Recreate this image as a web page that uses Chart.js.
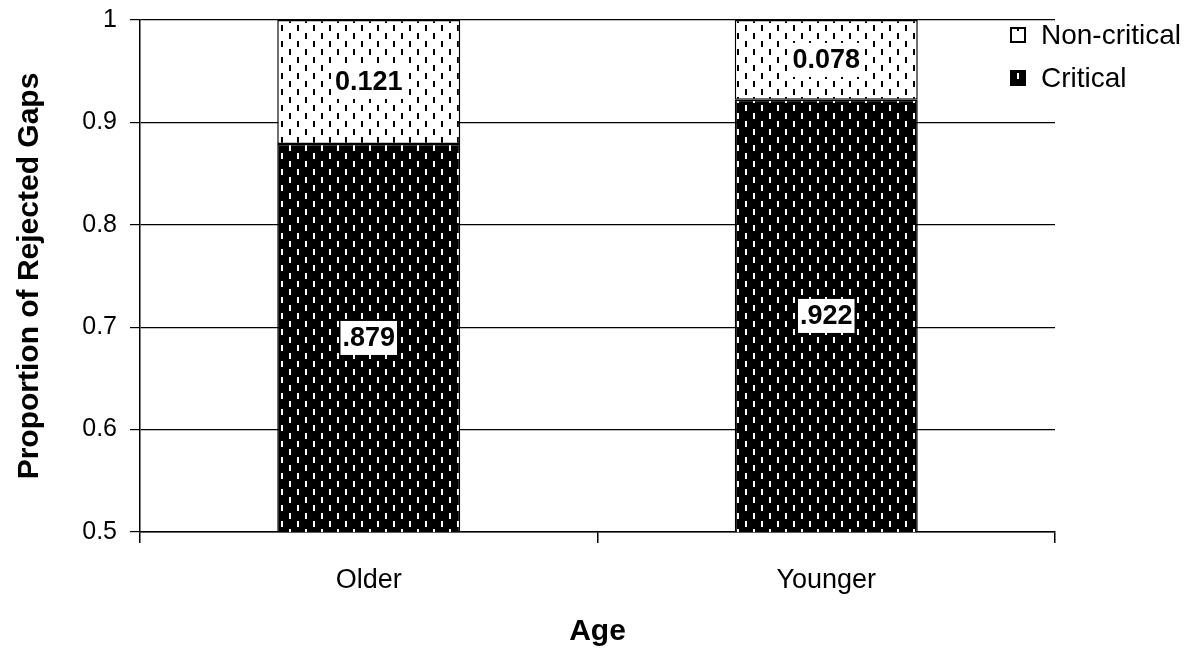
<!DOCTYPE html>
<html>
<head>
<meta charset="utf-8">
<title>Proportion of Rejected Gaps by Age</title>
<script src="https://cdn.jsdelivr.net/npm/chart.js@4/dist/chart.umd.min.js"></script>
<style>
  html, body { margin: 0; padding: 0; background: #fff; }
  #wrap { width: 1192px; height: 650px; }
</style>
</head>
<body>
<div id="wrap"><canvas id="gapsChart"></canvas></div>
<script>
// Data
const ageGroups = ['Older', 'Younger'];
const criticalShare = [0.879, 0.922];
const nonCriticalShare = [0.121, 0.078];
const seriesNames = ['Critical', 'Non-critical'];
const yTicks = [0.5, 0.6, 0.7, 0.8, 0.9, 1];

const FONT = "'Liberation Sans', Arial, sans-serif";

const canvas = document.getElementById('gapsChart');
const ctx = canvas.getContext('2d');

// Excel-style "dashed vertical" fill: staggered short dashes
function dashPattern(bg, fg) {
    const tile = document.createElement('canvas');
    tile.width = 16; tile.height = 16;
    const g = tile.getContext('2d');
    g.fillStyle = bg;
    g.fillRect(0, 0, 16, 16);
    g.fillStyle = fg;
    g.fillRect(1, 1, 2, 6);
    g.fillRect(9, 9, 2, 6);
    return ctx.createPattern(tile, 'repeat');
}

const darkFill = dashPattern('#000', '#fff');
const lightFill = dashPattern('#fff', '#000');

// Value labels centred on the visible part of each segment, on a white box
const segmentLabels = {
    id: 'segmentLabels',
    afterDatasetsDraw(chart) {
        const c = chart.ctx;
        const area = chart.chartArea;
        c.save();
        c.font = "bold 27px " + FONT;
        c.textAlign = 'center';
        c.textBaseline = 'middle';
        chart.data.datasets.forEach((ds, di) => {
            chart.getDatasetMeta(di).data.forEach((bar, i) => {
                const top = Math.max(Math.min(bar.y, bar.base), area.top);
                const bottom = Math.min(Math.max(bar.y, bar.base), area.bottom);
                const cy = (top + bottom) / 2;
                let text = ds.data[i].toFixed(3);
                if (di === 0) text = text.replace(/^0/, '');
                const w = c.measureText(text).width + 4;
                c.fillStyle = '#fff';
                c.fillRect(bar.x - w / 2, cy - 17, w, 34);
                c.fillStyle = '#000';
                c.fillText(text, bar.x, cy + 1);
            });
        });
        c.restore();
    }
};

// Legend at the top right, top series first
const sideLegend = {
    id: 'sideLegend',
    afterDraw(chart) {
        const c = chart.ctx;
        const x = chart.chartArea.right - 44;
        c.save();
        c.font = "28px " + FONT;
        c.textBaseline = 'middle';
        chart.data.datasets.slice().reverse().forEach((ds, i) => {
            const y = 35 + i * 43;
            c.fillStyle = ds.backgroundColor;
            c.fillRect(x, y - 7, 14, 14);
            c.strokeStyle = '#000';
            c.lineWidth = 2;
            c.strokeRect(x, y - 7, 14, 14);
            c.fillStyle = '#000';
            c.fillText(ds.label, x + 30, y + 1);
        });
        c.restore();
    }
};

new Chart(ctx, {
    type: 'bar',
    data: {
        labels: ageGroups,
        datasets: [
            {
                label: seriesNames[0],
                data: criticalShare,
                backgroundColor: darkFill,
                borderColor: '#000', borderWidth: 1.5, borderSkipped: false,
                barPercentage: 0.4, categoryPercentage: 1
            },
            {
                label: seriesNames[1],
                data: nonCriticalShare,
                backgroundColor: lightFill,
                borderColor: '#000', borderWidth: 1.5, borderSkipped: false,
                barPercentage: 0.4, categoryPercentage: 1
            }
        ]
    },
    options: {
        responsive: true, maintainAspectRatio: false,
        animation: false,
        layout: { padding: { left: 0, top: 20, right: 137, bottom: 0 } },
        plugins: {
            legend: { display: false },
            tooltip: { enabled: false }
        },
        scales: {
            x: {
                stacked: true,
                afterFit: s => { s.height = 118; },
                grid: { offset: true, drawOnChartArea: false, drawTicks: true, tickLength: 11, color: '#000', lineWidth: 1.5 },
                border: { display: true, color: '#000', width: 1.5 },
                ticks: { color: '#000', padding: 21, font: { family: FONT, size: 27 } },
                title: {
                    display: true, text: 'Age', color: '#000',
                    font: { family: FONT, size: 30, weight: 'bold' },
                    padding: { top: 0, bottom: 0 }
                }
            },
            y: {
                stacked: true,
                min: 0.5, max: 1,
                afterFit: s => { s.width = 140; s.paddingTop = 0; s.paddingBottom = 0; },
                afterBuildTicks: s => { s.ticks = yTicks.map(v => ({ value: v })); },
                grid: { color: '#000', lineWidth: 1.2, drawTicks: true, tickLength: 10 },
                border: { display: true, color: '#000', width: 1.5 },
                ticks: { color: '#000', padding: 13, font: { family: FONT, size: 25 }, callback: v => String(v) },
                title: {
                    display: true, text: 'Proportion of Rejected Gaps', color: '#000',
                    font: { family: FONT, size: 30, weight: 'bold' },
                    padding: { top: 12, bottom: 0 }
                }
            }
        }
    },
    plugins: [segmentLabels, sideLegend]
});
</script>
</body>
</html>
